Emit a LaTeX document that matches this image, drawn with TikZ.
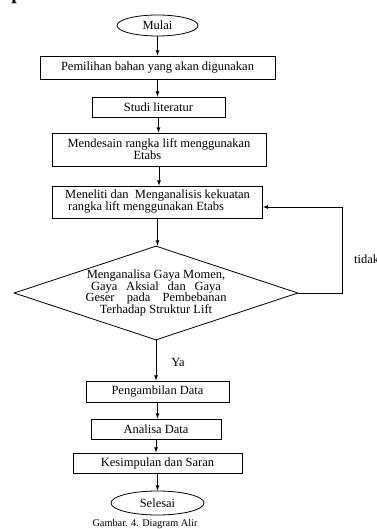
\documentclass[tikz,border=0pt]{standalone}
\usepackage{fontspec}
\setmainfont{Liberation Serif}
\usetikzlibrary{shapes.geometric}

\begin{document}
\begin{tikzpicture}[x=1pt, y=-1pt,
    kotak/.style={draw, line width=0.8pt, inner sep=1pt, font=\fontsize{12.5}{12}\selectfont},
    terminal/.style={draw, ellipse, line width=0.8pt, inner sep=0pt, font=\fontsize{12.5}{12}\selectfont},
    keputusan/.style={draw, diamond, aspect=3, line width=0.8pt, inner sep=0pt,
                      minimum width=284pt, minimum height=94pt, align=center,
                      font=\fontsize{12.5}{11.5}\selectfont},
    panah/.style={-latex, line width=0.8pt},
    teks/.style={inner sep=0pt, font=\fontsize{12.5}{12}\selectfont}]
    \useasboundingbox (0,0) rectangle (376,529);

    % sisa huruf di tepi atas
    \node[anchor=base, inner sep=0pt, font=\bfseries\fontsize{20}{20}\selectfont] (p) at (17,-0.5) {p};

    % Mulai dan langkah awal
    \node[terminal, minimum width=81pt, minimum height=21pt] (mulai) at (157.5,25.5) {Mulai};
    \node[kotak, minimum width=235pt, minimum height=23pt] (bahan) at (157.5,67.5) {Pemilihan bahan yang akan digunakan};
    \node[kotak, minimum width=133pt, minimum height=20pt] (studi) at (158.5,107) {Studi literatur};
    \node[kotak, minimum width=214pt, minimum height=33pt, align=left] (desain) at (159,149.5)
        {Mendesain rangka lift menggunakan\\\hspace*{66pt}Etabs};
    \node[kotak, minimum width=210pt, minimum height=32pt, align=left] (teliti) at (157.5,202)
        {Meneliti dan\ \ Menganalisis kekuatan\\\hspace*{3pt}rangka lift menggunakan Etabs};

    % Keputusan
    \node[keputusan] (analisa) at (156,293)
        {Menganalisa Gaya Momen,\\\makebox[130pt][s]{Gaya Aksial dan Gaya}\\
         \makebox[141pt][s]{Geser pada Pembebanan}\\Terhadap Struktur Lift};

    % Langkah akhir
    \node[kotak, minimum width=143pt, minimum height=21pt] (ambil) at (157.5,391.5) {Pengambilan Data};
    \node[kotak, minimum width=130pt, minimum height=20pt] (data) at (156,429) {Analisa Data};
    \node[kotak, minimum width=169pt, minimum height=20pt] (simpul) at (157.5,463) {Kesimpulan dan Saran};
    \node[terminal, minimum width=93pt, minimum height=24pt] (selesai) at (157.5,503) {Selesai};

    \node[inner sep=0pt, font=\fontsize{10.3}{12}\selectfont] (judul) at (145,524) {Gambar. 4. Diagram Alir};

    % Panah lurus
    \foreach \a/\b in {mulai/bahan, bahan/studi, studi/desain, desain/teliti,
                       teliti/analisa, ambil/data, data/simpul, simpul/selesai}
        \draw[panah] (\a.south) -- (\a.south |- \b.north);
    \draw[panah] (analisa.south) -- (analisa.south |- ambil.north)
        node[teks, pos=0.56, right, xshift=15pt] (ya) {Ya};

    % Panah balik
    \coordinate (sudut) at (342,207);
    \draw[panah] (analisa.east) -| (sudut) -- (sudut -| teliti.east);
    \node[teks, right] (tidak) at (354,259) {tidak};

\end{tikzpicture}
\end{document}
